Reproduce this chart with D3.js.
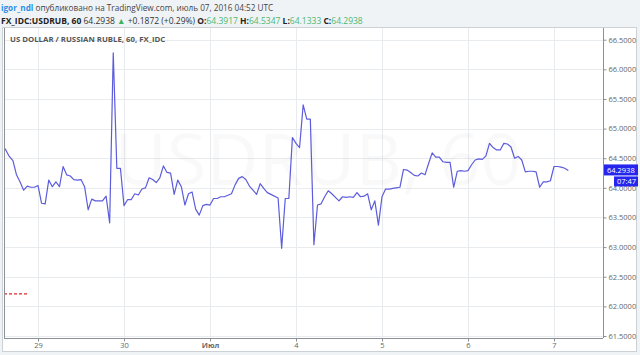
<!DOCTYPE html>
<html>
<head>
<meta charset="utf-8">
<script src="https://cdn.jsdelivr.net/npm/d3@7/dist/d3.min.js"></script>
<style>
  body { margin: 0; background: #f0f3f6; }
  svg { display: block; font-family: "Open Sans", sans-serif; }
</style>
</head>
<body>
<div id="chart"></div>
<script>
// hourly bars, counted in trading hours from the first bar (weekend skipped)
const hours = [
  0, 1, 2, 3, 4, 5, 6, 7, 8, 9, 10, 11, 12, 13, 14, 15, 16, 17, 18, 19,
  20, 21, 22, 23, 24, 25, 26, 27, 28, 29, 30, 31, 32, 33, 34, 35, 36, 37, 38, 39,
  40, 41, 42, 43, 44, 45, 46, 47, 48, 49, 50, 51, 52, 53, 54, 55, 56, 57, 58, 59,
  60, 61, 62, 64, 65, 66, 67, 68, 69, 70, 71, 72, 73, 74, 75, 77, 78, 79, 80, 81,
  82, 83, 84, 85, 86, 87, 88, 89, 90, 91, 92, 93, 94, 95, 96, 97, 98, 99, 100, 101,
  102, 103, 104, 105, 106, 107, 108, 109, 110, 111, 112, 113, 114, 115, 116, 117, 118, 119, 120, 121,
  122, 123, 124, 125, 126, 127, 128, 129, 130, 131, 132, 133, 134, 135, 136, 137, 138, 139, 140, 141,
  142, 143, 144, 145, 146, 147, 148, 149, 150, 151, 152, 153, 154, 155, 156, 157, 158
];
const closes = [
  64.72, 64.64, 64.53, 64.46, 64.22, 64.10, 63.96, 64.03, 64.01, 64.01, 64.04, 63.74, 63.73, 64.13, 64.02, 64.10, 64.02, 64.36, 64.22, 64.20,
  64.14, 64.13, 64.14, 64.02, 63.63, 63.81, 63.78, 63.78, 63.78, 63.86, 63.41, 66.28, 64.33, 64.33, 63.70, 63.80, 63.80, 63.90, 63.88, 63.98,
  64.00, 64.17, 64.14, 64.09, 64.17, 64.37, 64.26, 64.25, 63.89, 64.13, 64.02, 63.71, 63.90, 63.93, 63.64, 63.54, 63.70, 63.72, 63.71, 63.82,
  63.82, 63.85, 63.85, 63.90, 64.05, 64.16, 64.19, 64.14, 64.03, 63.96, 63.89, 64.07, 63.99, 63.92, 63.89, 63.83, 62.98, 63.82, 63.82, 64.85,
  64.75, 64.68, 65.40, 65.16, 65.16, 63.04, 63.71, 63.73, 63.85, 63.95, 63.90, 63.84, 63.78, 63.85, 63.84, 63.85, 63.84, 63.92, 63.85, 63.86,
  63.90, 63.63, 63.78, 63.37, 63.85, 63.98, 63.98, 63.99, 64.00, 64.01, 64.31, 64.30, 64.26, 64.21, 64.20, 64.25, 64.22, 64.41, 64.59, 64.52,
  64.52, 64.44, 64.43, 64.43, 64.01, 64.28, 64.29, 64.28, 64.29, 64.39, 64.47, 64.49, 64.48, 64.54, 64.75, 64.68, 64.64, 64.64, 64.75, 64.74,
  64.69, 64.50, 64.53, 64.47, 64.27, 64.28, 64.28, 64.27, 64.01, 64.10, 64.10, 64.12, 64.36, 64.36, 64.35, 64.33, 64.2938
];

const dayTickHours = [10, 34, 58, 82, 106, 130, 154];
const dayTickLabels = ['29', '30', 'Июл', '4', '5', '6', '7'];
const priceTicks = [61.5, 62.0, 62.5, 63.0, 63.5, 64.0, 64.5, 65.0, 65.5, 66.0, 66.5];
const indicatorLevel = 62.21;
const lastPrice = 64.2938;
const lastTime = '07:47';

const W = 640;
const H = 355;
const plot = { left: 4, top: 28, right: 603, bottom: 338 };

const svg = d3
  .select('#chart')
  .append('svg')
  .attr('width', W)
  .attr('height', H);

// header lines above the chart
const head1 = svg
  .append('text')
  .attr('x', 1)
  .attr('y', 11)
  .attr('font-size', 8.2)
  .attr('fill', '#444');
head1.append('tspan').attr('fill', '#2f8ee5').attr('font-weight', 'bold').text('igor_ndl');
head1.append('tspan').text(' опубликовано на TradingView.com, июль 07, 2016 04:52 UTC');

const head2 = svg
  .append('text')
  .attr('x', 1)
  .attr('y', 24)
  .attr('font-size', 8.5)
  .attr('fill', '#333');
head2.append('tspan').attr('font-weight', 'bold').attr('fill', '#222').text('FX_IDC:USDRUB, 60');
head2.append('tspan').text(' 64.2938 ');
head2.append('tspan').attr('fill', '#3cb35a').text('▲');
head2.append('tspan').text(' +0.1872 (+0.29%) ');
[['O:', '64.3917'], ['H:', '64.5347'], ['L:', '64.1333'], ['C:', '64.2938']].forEach((p, i) => {
  head2.append('tspan').attr('font-weight', 'bold').attr('fill', '#222').text((i ? ' ' : '') + p[0]);
  head2.append('tspan').attr('fill', '#4cb870').text(p[1]);
});

// chart frame
svg
  .append('rect')
  .attr('x', 2.5)
  .attr('y', 27.5)
  .attr('width', 634)
  .attr('height', 324)
  .attr('fill', '#fff')
  .attr('stroke', '#ccd1d6');

const x = d3.scaleLinear().domain([10, 154]).range([38, 554]);
const y = d3.scaleLinear().domain([61.5, 66.5]).range([336, 39.7]);

svg
  .append('clipPath')
  .attr('id', 'clip')
  .append('rect')
  .attr('x', plot.left)
  .attr('y', plot.top)
  .attr('width', plot.right - plot.left)
  .attr('height', plot.bottom - plot.top);

// grid
const grid = svg.append('g').attr('clip-path', 'url(#clip)');
grid
  .selectAll('.vgrid')
  .data(dayTickHours)
  .enter()
  .append('line')
  .attr('x1', d => Math.round(x(d)) + 0.5)
  .attr('x2', d => Math.round(x(d)) + 0.5)
  .attr('y1', plot.top)
  .attr('y2', plot.bottom)
  .attr('stroke', '#e9ecef');
grid
  .selectAll('.hgrid')
  .data(priceTicks)
  .enter()
  .append('line')
  .attr('x1', plot.left)
  .attr('x2', plot.right)
  .attr('y1', d => Math.round(y(d)) + 0.5)
  .attr('y2', d => Math.round(y(d)) + 0.5)
  .attr('stroke', '#e9ecef');

// watermark
svg
  .append('text')
  .attr('x', 318)
  .attr('y', 185)
  .attr('text-anchor', 'middle')
  .attr('font-size', 72)
  .attr('fill', '#000')
  .attr('fill-opacity', 0.025)
  .text('USDRUB, 60');
svg
  .append('text')
  .attr('x', 304)
  .attr('y', 231)
  .attr('text-anchor', 'middle')
  .attr('font-size', 35)
  .attr('fill', '#000')
  .attr('fill-opacity', 0.025)
  .text('US DOLLAR / RUSSIAN RUBLE');

// chart title
svg
  .append('text')
  .attr('x', 10)
  .attr('y', 42)
  .attr('font-size', 7.8)
  .attr('font-weight', 'bold')
  .attr('fill', '#555')
  .text('US DOLLAR / RUSSIAN RUBLE, 60, FX_IDC');

const series = hours.map((h, i) => ({ h, v: closes[i] }));

const line = d3
  .line()
  .x(d => x(d.h))
  .y(d => y(d.v));

const marks = svg.append('g').attr('clip-path', 'url(#clip)');
marks
  .append('path')
  .datum(series)
  .attr('fill', 'none')
  .attr('stroke', '#5c5cdc')
  .attr('stroke-width', 1.2)
  .attr('stroke-linejoin', 'round')
  .attr('d', line);

// small red dashed indicator stub at the left edge
marks
  .append('line')
  .attr('x1', plot.left)
  .attr('x2', x(7))
  .attr('y1', y(indicatorLevel))
  .attr('y2', y(indicatorLevel))
  .attr('stroke', '#e0262b')
  .attr('stroke-width', 1.2)
  .attr('stroke-dasharray', '3,2');

// axes
const yAxis = d3
  .axisRight(y)
  .tickValues(priceTicks)
  .tickFormat(d3.format('.4f'))
  .tickSize(3)
  .tickPadding(2);
const gy = svg
  .append('g')
  .attr('transform', `translate(${plot.right + 0.5},0)`)
  .call(yAxis);
gy.select('.domain').attr('d', `M0,${plot.top}V${plot.bottom}`).attr('stroke', '#8d9196');
gy.selectAll('line').attr('stroke', '#8d9196');
gy.selectAll('text').attr('font-size', 7.5).attr('fill', '#666').attr('font-family', '"Open Sans", sans-serif');

const xAxis = d3
  .axisBottom(x)
  .tickValues(dayTickHours)
  .tickFormat((d, i) => dayTickLabels[i])
  .tickSize(3)
  .tickPadding(1);
const gx = svg
  .append('g')
  .attr('transform', `translate(0,${plot.bottom + 0.5})`)
  .call(xAxis);
gx.select('.domain').attr('d', `M${plot.left},0H${plot.right}`).attr('stroke', '#8d9196');
gx.selectAll('line').attr('stroke', '#8d9196');
gx.selectAll('text')
  .attr('font-size', 7.5)
  .attr('fill', '#666')
  .attr('font-family', '"Open Sans", sans-serif')
  .attr('font-weight', (d, i) => (dayTickLabels[i] === 'Июл' ? 'bold' : 'normal'));

// left frame line
svg
  .append('line')
  .attr('x1', plot.left + 0.5)
  .attr('x2', plot.left + 0.5)
  .attr('y1', plot.top)
  .attr('y2', plot.bottom)
  .attr('stroke', '#8d9196');

// last price and time labels
const py = y(lastPrice);
svg
  .append('rect')
  .attr('x', plot.right + 1)
  .attr('y', py - 6)
  .attr('width', 34)
  .attr('height', 11)
  .attr('fill', '#2525ee');
svg
  .append('text')
  .attr('x', plot.right + 4)
  .attr('y', py + 2.5)
  .attr('font-size', 7.5)
  .attr('fill', '#fff')
  .text(lastPrice.toFixed(4));
svg
  .append('rect')
  .attr('x', plot.right + 11)
  .attr('y', py + 6)
  .attr('width', 24)
  .attr('height', 10)
  .attr('fill', '#2525ee');
svg
  .append('text')
  .attr('x', plot.right + 14)
  .attr('y', py + 13.5)
  .attr('font-size', 7.5)
  .attr('fill', '#fff')
  .text(lastTime);
</script>
</body>
</html>
